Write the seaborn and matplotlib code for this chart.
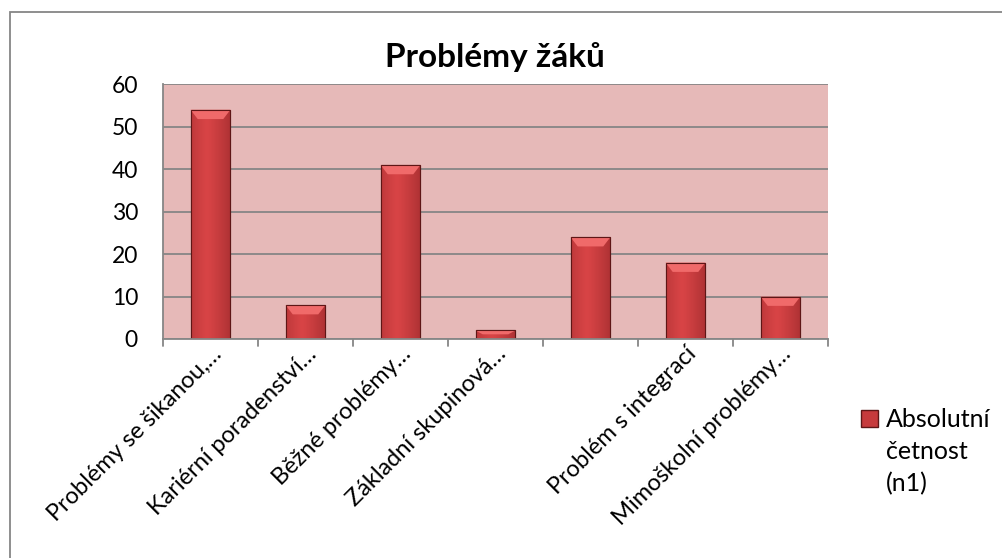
import matplotlib
matplotlib.use("Agg")
import matplotlib.pyplot as plt
import matplotlib.transforms as mtransforms
import seaborn as sns
import numpy as np
from matplotlib.patches import Rectangle, Patch, Polygon

# Data
kategorie = [
    "Problémy se šikanou,…",
    "Kariérní poradenství…",
    "Běžné problémy…",
    "Základní skupinová…",
    "",
    "Problém s integrací",
    "Mimoškolní problémy…",
]
hodnoty = [54, 8, 41, 2, 24, 18, 10]
nazev_rady = ["Absolutní", "četnost", "(n1)"]

sns.set_style("white")
plt.rcParams["font.family"] = ["Lato", "DejaVu Sans"]
plt.rcParams["text.color"] = "black"
plt.rcParams["xtick.color"] = "black"
plt.rcParams["ytick.color"] = "black"

fig = plt.figure(figsize=(10.03, 5.58), dpi=100)
ax = fig.add_axes([0.1625, 0.3925, 0.663, 0.4565])
ax.set_facecolor("#e6b9b8")

sns.barplot(x=list(range(len(hodnoty))), y=hodnoty, color="#c63a3c",
            width=0.42, edgecolor="#5e1616", linewidth=0.8, saturation=1, ax=ax)

# stínování sloupců: gradient + světlejší horní zkosení
grad = np.linspace(0, 1, 64)
grad = 1 - 0.55 * np.abs(grad - 0.4) ** 1.2
cmap = matplotlib.colors.LinearSegmentedColormap.from_list("r", ["#8a2224", "#d84446"])
for p in list(ax.patches):
    x0, y0 = p.get_x(), p.get_y()
    w, h = p.get_width(), p.get_height()
    im = ax.imshow(grad[None, :], extent=[x0, x0 + w, y0, y0 + h], aspect="auto",
                   cmap=cmap, vmin=0.45, vmax=1, zorder=p.get_zorder() + 0.1)
    im.set_clip_path(p)
    cap = min(2.2, h * 0.45)
    dx = w * 0.18
    ax.add_patch(Polygon([[x0, y0 + h], [x0 + w, y0 + h], [x0 + w - dx, y0 + h - cap],
                          [x0 + dx, y0 + h - cap]], closed=True, facecolor="#f06a6a",
                         edgecolor="none", zorder=p.get_zorder() + 0.2))
    ax.add_patch(Rectangle((x0, y0), w, h, fill=False, edgecolor="#5e1616",
                           linewidth=0.8, zorder=p.get_zorder() + 0.3))

ax.set_ylim(0, 60)
ax.set_yticks(range(0, 61, 10))
ax.yaxis.grid(True, color="#868686", linewidth=1.3)
ax.set_axisbelow(True)
ax.set_xlim(-0.5, len(hodnoty) - 0.5)
ax.set_xticks(range(len(hodnoty)))
ax.set_xticklabels(kategorie, rotation=45, ha="right", va="top",
                   rotation_mode="anchor", fontsize=17)
posun = mtransforms.ScaledTranslation(5 / 100, -3 / 100, fig.dpi_scale_trans)
for t in ax.get_xticklabels():
    t.set_transform(t.get_transform() + posun)
ax.tick_params(axis="y", labelsize=16.5, length=6, color="#868686", pad=12)
ax.tick_params(axis="x", length=0, pad=3)
# oddělovače kategorií na ose x
for i in range(len(hodnoty) + 1):
    ax.plot([i - 0.5, i - 0.5], [0, -1.6], color="#868686", lw=1.3, clip_on=False)
for s in ["top", "right"]:
    ax.spines[s].set_visible(False)
ax.spines["left"].set_color("#868686")
ax.spines["bottom"].set_color("#868686")
ax.spines["left"].set_linewidth(1.3)
ax.spines["bottom"].set_linewidth(1.3)
ax.set_xlabel("")
ax.set_ylabel("")

fig.text(0.493, 0.897, "Problémy žáků", ha="center", va="center",
         fontsize=24, fontweight="bold")

handle = Patch(facecolor="#c63a3c", edgecolor="#5e1616")
leg = fig.legend([handle], [nazev_rady[0]], loc="upper left", bbox_to_anchor=(0.858, 0.268),
                 frameon=False, fontsize=18, handlelength=0.7, handleheight=0.7,
                 handletextpad=0.3, borderaxespad=0, borderpad=0)
fig.canvas.draw()
bb = leg.get_texts()[0].get_window_extent()
W, H = fig.bbox.width, fig.bbox.height
for k, radek in enumerate(nazev_rady[1:], start=1):
    fig.text(bb.x0 / W, (bb.y0 - 32 * k) / H, radek, fontsize=18, ha="left", va="bottom")

fig.patches.append(Rectangle((0.010, -0.05), 1.05, 1.028, transform=fig.transFigure,
                             fill=False, edgecolor="#868686", linewidth=1.3))

fig.savefig("out.png", dpi=100)
